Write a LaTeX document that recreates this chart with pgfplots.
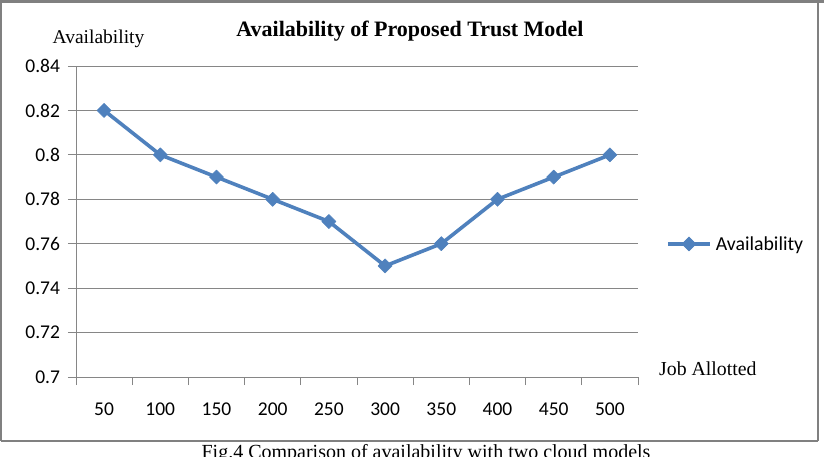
\documentclass[border=0pt]{standalone}
\usepackage{pgfplots}
\pgfplotsset{compat=1.18}
\usepackage{pgfplotstable}
\usepackage{fontspec}
\setmainfont{Liberation Serif}
\newfontfamily\calibri{Carlito}

\definecolor{seriesblue}{RGB}{79,129,189}
\definecolor{gridgray}{RGB}{134,134,134}
\definecolor{framegray}{RGB}{128,128,128}

% availability per number of jobs allotted
\pgfplotstableread{
idx jobs avail
0   50   0.82
1   100  0.80
2   150  0.79
3   200  0.78
4   250  0.77
5   300  0.75
6   350  0.76
7   400  0.78
8   450  0.79
9   500  0.80
}\availtable

\begin{document}
\begin{tikzpicture}[x=1pt,y=1pt]
\path[use as bounding box] (0,0) rectangle (824,456);
\fill[white] (0,0) rectangle (824,456);
% chart frame
\fill[framegray] (0,453) rectangle (824,456);
\draw[framegray, line width=1.5pt] (1,15) -- (1,454) (818,15) -- (818,454) (1,15) -- (818,15);

\begin{axis}[
  at={(76pt,79pt)}, anchor=south west,
  scale only axis, width=562pt, height=311pt,
  clip=false,
  xmin=-0.5, xmax=9.5, ymin=0.7, ymax=0.84,
  axis x line*=bottom, axis y line*=left,
  axis line style={gridgray, line width=1pt},
  tick align=outside,
  major tick length=8pt,
  tick style={gridgray, line width=1pt},
  xtick={-0.5,0.5,1.5,2.5,3.5,4.5,5.5,6.5,7.5,8.5,9.5},
  xticklabels={},
  extra x ticks={0,1,2,3,4,5,6,7,8,9},
  extra x tick labels={50,100,150,200,250,300,350,400,450,500},
  extra x tick style={major tick length=0pt, grid=none,
    xticklabel style={anchor=base, yshift=-38pt}},
  ytick={0.7,0.72,0.74,0.76,0.78,0.8,0.82,0.84},
  yticklabels={0.7,0.72,0.74,0.76,0.78,0.8,0.82,0.84},
  yticklabel style={xshift=-4.5pt},
  ticklabel style={font=\calibri\fontsize{19.5}{22}\selectfont, text=black},
  ymajorgrids,
  grid style={gridgray, line width=1pt},
  legend style={at={(1.0498,0.4277)}, anchor=west, draw=none, fill=none,
    inner sep=0pt, column sep=4pt,
    font=\calibri\fontsize{19.8}{22}\selectfont,
    nodes={inner sep=0pt}},
  legend image code/.code={
    \draw[mark repeat=2, mark phase=2, #1]
      plot coordinates {(0pt,0pt) (21pt,0pt) (42pt,0pt)};},
]
\addplot[seriesblue, line width=3.6pt, line join=round,
  mark=square*, mark size=5pt,
  mark options={rotate=45, line width=0.5pt}]
  table[x=idx, y=avail] {\availtable};
\addlegendentry{Availability}
\end{axis}

% titles and axis names
\node[anchor=base] at (410,419) {\fontsize{22}{26}\selectfont\bfseries Availability of Proposed Trust Model};
\node[anchor=base] at (98.5,412) {\fontsize{19.5}{23}\selectfont Availability};
\node[anchor=base west, inner sep=0pt] at (659,81) {\fontsize{19.8}{23}\selectfont Job Allotted};
\node[anchor=base] at (426,-2) {\fontsize{20}{24}\selectfont Fig.4 Comparison of availability with two cloud models};
\end{tikzpicture}
\end{document}
